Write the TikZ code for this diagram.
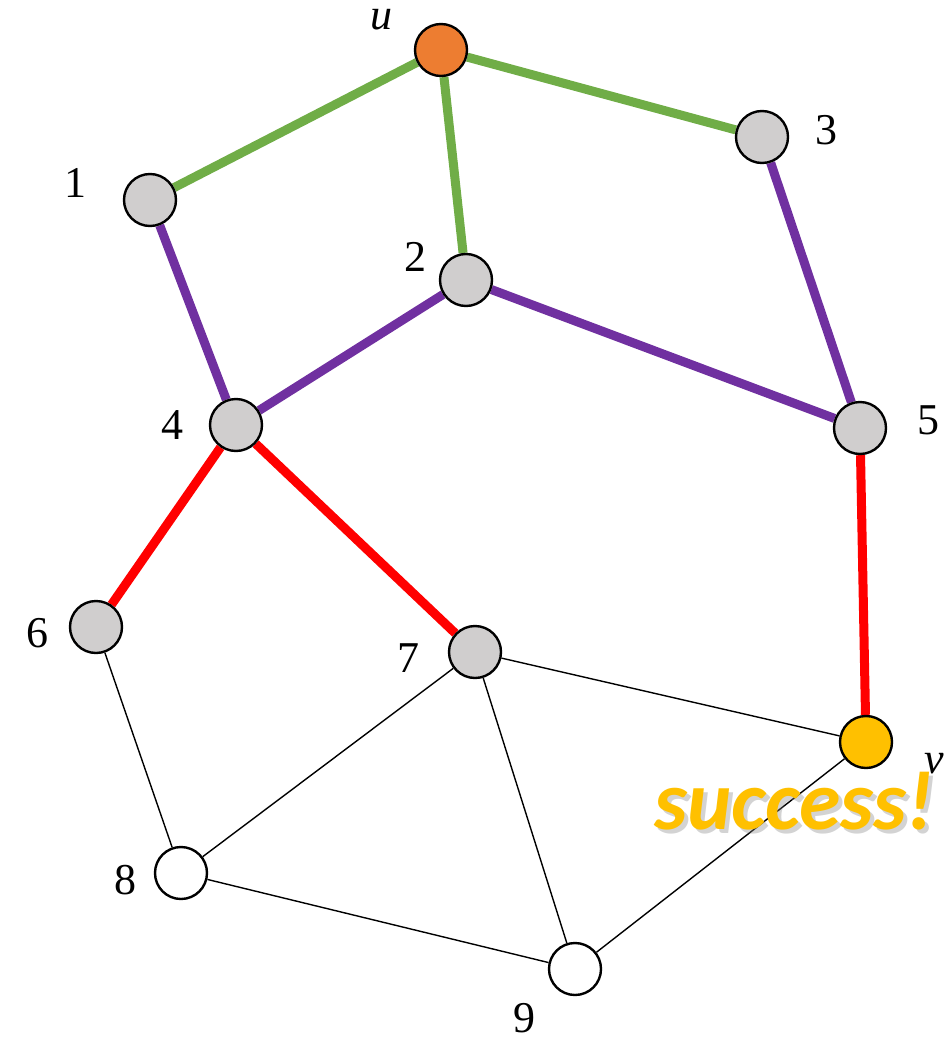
\documentclass[tikz,border=0pt]{standalone}
\usepackage{fontspec}
\setmainfont{Liberation Serif}
\newfontfamily\calib{Carlito}
\usepackage{tikz}
\usepackage{xcolor}
\usetikzlibrary{backgrounds}
\definecolor{uorange}{HTML}{ED7D31}
\definecolor{vyellow}{HTML}{FFC000}
\definecolor{lvgreen}{HTML}{70AD47}
\definecolor{lvpurple}{HTML}{7030A0}
\definecolor{nodegray}{HTML}{D0CECE}

\begin{document}
\begin{tikzpicture}[x=0.5pt, y=-0.5pt,
    vert/.style={circle, draw=black, line width=1.2pt, fill=nodegray, minimum size=26pt, inner sep=0pt},
    lbl/.style={font=\fontsize{22}{24}\selectfont, inner sep=0pt},
    lev1/.style={line width=4.5pt, lvgreen},
    lev2/.style={line width=4.5pt, lvpurple},
    lev3/.style={line width=4.5pt, red},
    plain/.style={line width=0.7pt, black},
    succfont/.style={font=\calib\bfseries\itshape\fontsize{42}{44}\selectfont, inner sep=0pt}]
            \useasboundingbox (0,0) rectangle (948,1038);
            % vertices
            \node[vert, fill=uorange] (u) at (441,50) {};
            \node[vert] (n1) at (150,200) {};
            \node[vert] (n2) at (466,280) {};
            \node[vert] (n3) at (762,137) {};
            \node[vert] (n4) at (236,425) {};
            \node[vert] (n5) at (860,428) {};
            \node[vert] (n6) at (96,627) {};
            \node[vert] (n7) at (475,652) {};
            \node[vert, fill=vyellow] (v) at (866,742) {};
            \node[vert, fill=white] (n8) at (181,873) {};
            \node[vert, fill=white] (n9) at (575,969) {};
            % edges
            \begin{pgfonlayer}{background}
            \foreach \a/\b in {n6/n8, n7/n8, n7/v, n7/n9, n8/n9, n9/v} \draw[plain] (\a) -- (\b);
            \foreach \b in {n1, n2, n3} \draw[lev1] (u) -- (\b);
            \foreach \a/\b in {n1/n4, n2/n4, n2/n5, n3/n5} \draw[lev2] (\a) -- (\b);
            \foreach \a/\b in {n4/n6, n4/n7, n5/v} \draw[lev3] (\a) -- (\b);
            \end{pgfonlayer}
            % labels
            \node[lbl] (lu) at (381,20) {\textit{u}};
            \node[lbl] (l1) at (75,183) {1};
            \node[lbl] (l2) at (415,257) {2};
            \node[lbl] (l3) at (826,130) {3};
            \node[lbl] (l4) at (172,425) {4};
            \node[lbl] (l5) at (928,420) {5};
            \node[lbl] (l6) at (37,633) {6};
            \node[lbl] (l7) at (408,658) {7};
            \node[lbl] (lv) at (934,764) {\textit{v}};
            \node[lbl] (l8) at (125,880) {8};
            \node[lbl] (l9) at (524,1018) {9};
            \node[succfont, text=gray, opacity=0.35] (shadow) at (798,805) {success!};
            \node[succfont, text=vyellow] (succ) at (794,801) {success!};
        \end{tikzpicture}
\end{document}
